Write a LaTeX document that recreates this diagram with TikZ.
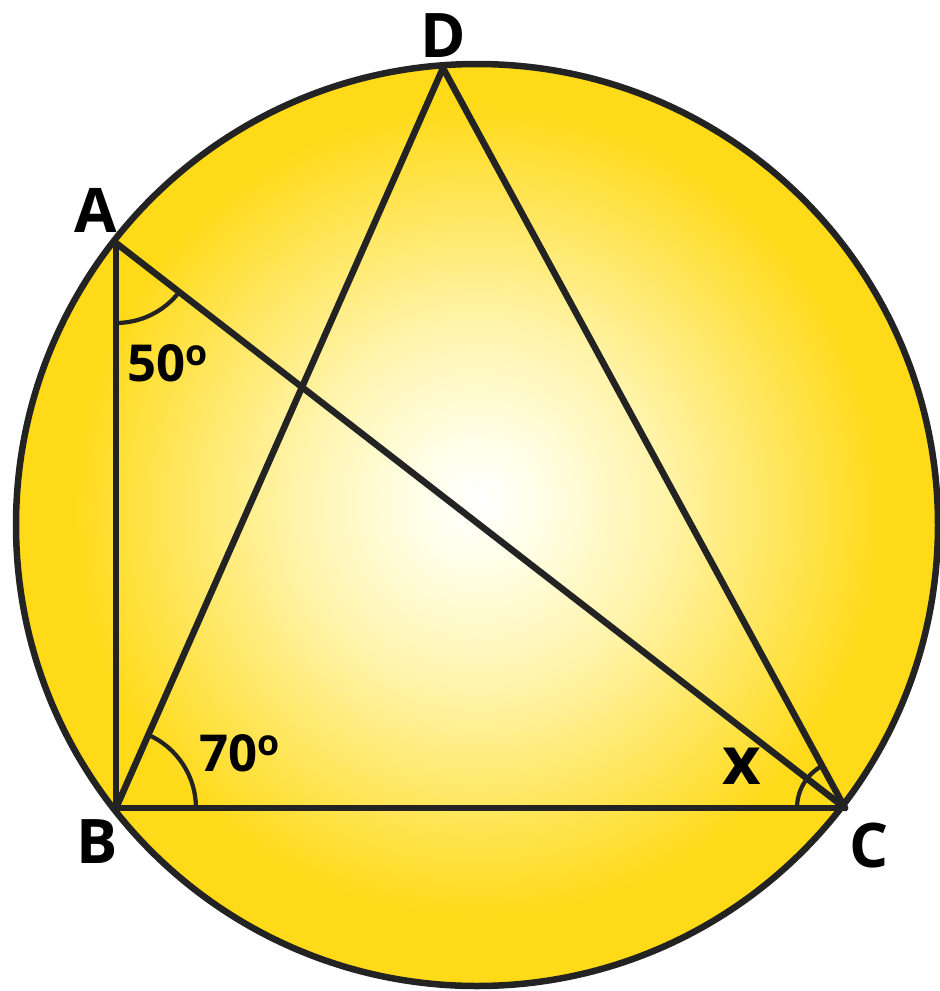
\documentclass[tikz,border=0pt]{standalone}
\usepackage{fontspec}
\setmainfont{Open Sans}
\definecolor{gold}{RGB}{255,218,25}
\definecolor{paleyel}{RGB}{255,244,170}
\definecolor{ink}{RGB}{35,35,35}
\pgfdeclareradialshading{sunglow}{\pgfpoint{0bp}{1.3bp}}{color(0bp)=(white); color(3bp)=(white!92!yellow); color(10bp)=(paleyel); color(22bp)=(gold); color(50bp)=(gold)}
\tikzset{
  seg/.style={draw=ink, line width=3.7pt, line cap=round, line join=round},
  angarc/.style={draw=ink, line width=2.4pt},
  ptlabel/.style={font=\fontsize{35}{35}\selectfont\bfseries, text=black, inner sep=0pt},
  anglabel/.style={font=\fontsize{29}{29}\selectfont\bfseries, text=black, inner sep=0pt}
}
\begin{document}
\begin{tikzpicture}[x=0.02cm, y=-0.02cm]
\useasboundingbox (0,0) rectangle (940,991);
\coordinate (O) at (477,525);
\coordinate (A) at (116,243);
\coordinate (B) at (116,808);
\coordinate (C) at (845,808);
\coordinate (D) at (443,68);
\shade[shading=sunglow] (O) circle [radius=461];
\draw[draw=ink, line width=3.7pt] (O) circle [radius=461];
% angle arcs
\draw[angarc] ([shift={(-90:1.6cm)}]A) arc[start angle=-90, end angle=-37.8, radius=1.6cm];
\draw[angarc] ([shift={(0:1.6cm)}]B) arc[start angle=0, end angle=66.2, radius=1.6cm];
\draw[angarc] ([shift={(180:0.96cm)}]C) arc[start angle=180, end angle=118.5, radius=0.96cm];
% segments
\draw[seg] (A) -- (B);
\draw[seg] (B) -- (C);
\draw[seg] (A) -- (C);
\draw[seg] (B) -- (D);
\draw[seg] (D) -- (C);
% labels
\node[ptlabel] (lA) at (96,210) {A};
\node[ptlabel] (lB) at (97,842) {B};
\node[ptlabel] (lC) at (869,846) {C};
\node[ptlabel] (lD) at (443,36) {D};
\node[anglabel] (l50) at (168,363) {50\textsuperscript{o}};
\node[anglabel] (l70) at (240,753) {70\textsuperscript{o}};
\node[anglabel, font=\fontsize{38}{38}\selectfont\bfseries] (lx) at (742,766) {x};
\end{tikzpicture}
\end{document}
